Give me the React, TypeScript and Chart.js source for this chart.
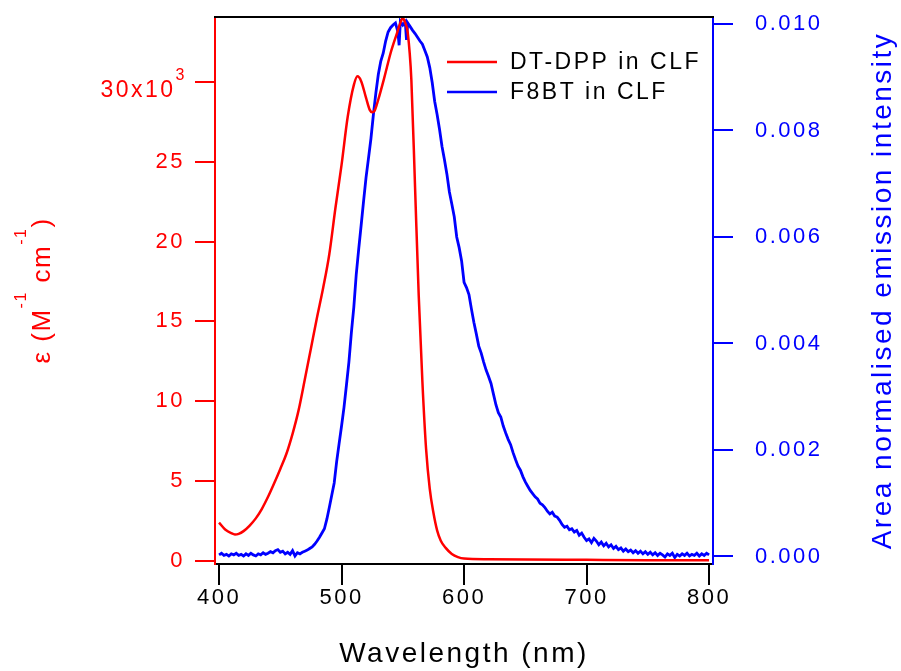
import React, { useEffect, useRef } from 'react';
import { Chart, registerables } from 'chart.js';

Chart.register(...registerables);

const FONT = "'Liberation Sans', Arial, Helvetica, sans-serif";
const SPACING = '2.5px';

// tick values
const wavelengthTicks = [400, 500, 600, 700, 800];
const epsilonTicks = [0, 5, 10, 15, 20, 25, 30];
const emissionTicks = [0, 0.002, 0.004, 0.006, 0.008, 0.01];

// DT-DPP absorption (epsilon, in units of 10^3 M^-1 cm^-1)
const absorptionWavelengths = [
  400, 405, 410, 413, 416, 420, 425, 430, 435, 440, 445, 450, 455, 460, 465,
  470, 475, 480, 485, 490, 495, 500, 505, 510, 513, 516, 520, 523, 525, 527,
  530, 535, 540, 545, 548, 550, 552, 554, 557, 560, 563, 566, 569, 572, 575,
  578, 581, 585, 590, 595, 600, 620, 650, 700, 750, 800,
];
const absorptionValues = [
  2.38, 1.95, 1.72, 1.64, 1.68, 1.85, 2.2, 2.65, 3.25, 4.0, 4.85, 5.75, 6.7, 7.95, 9.45,
  11.35, 13.3, 15.25, 17.1, 19.2, 22.1, 24.8, 27.8, 29.8, 30.35, 30.05, 29.0, 28.25, 28.1, 28.2,
  28.9, 30.3, 31.8, 33.0, 33.7, 34.0, 33.7, 33.1, 30.1, 23.4, 16.6, 11.2, 7.0, 4.5, 3.0,
  1.9, 1.25, 0.8, 0.42, 0.22, 0.13, 0.09, 0.07, 0.05, 0.03, 0.02,
];

// F8BT area-normalised emission
const emissionWavelengths = [
  400, 402, 404, 406, 408, 410, 412, 414, 416, 418, 420, 422, 424, 426, 428,
  430, 432, 434, 436, 438, 440, 442, 444, 446, 448, 450, 452, 454, 456, 458,
  460, 462, 464, 466, 468, 470, 472, 474, 476, 478, 480, 482, 484, 486, 488,
  490, 492, 494, 496, 498, 500, 502, 504, 506, 508, 510, 512, 514, 516, 518,
  520, 522, 524, 526, 528, 530, 532, 534, 536, 538, 540, 542, 544, 546, 547,
  548, 550, 552, 553, 554, 556, 558, 560, 562, 564, 566, 568, 570, 572, 574,
  576, 578, 580, 582, 584, 586, 588, 590, 592, 594, 596, 598, 600, 602, 604,
  606, 608, 610, 612, 614, 616, 618, 620, 622, 624, 626, 628, 630, 632, 634,
  636, 638, 640, 642, 644, 646, 648, 650, 652, 654, 656, 658, 660, 662, 664,
  666, 668, 670, 672, 674, 676, 678, 680, 682, 684, 686, 688, 690, 692, 694,
  696, 698, 700, 702, 704, 706, 708, 710, 712, 714, 716, 718, 720, 722, 724,
  726, 728, 730, 732, 734, 736, 738, 740, 742, 744, 746, 748, 750, 752, 754,
  756, 758, 760, 762, 764, 766, 768, 770, 772, 774, 776, 778, 780, 782, 784,
  786, 788, 790, 792, 794, 796, 798, 800,
];
const emissionValues = [
  0.00003, 0.00006, 0.00002, 0.00004, 0.00001, 0.00005, 0.00003, 0.00006, 0.00002, 0.00004, 0.00001, 0.00005, 0.00002, 0.00006, 0.00003,
  0.00001, 0.00005, 0.00003, 0.00007, 0.00004, 0.00006, 0.00009, 0.00007, 0.00011, 0.00013, 0.00008, 0.0001, 0.00005, 0.00008, 0.00004,
  0.00011, 0.00001, 0.00007, 0.00005, 0.00008, 0.0001, 0.00012, 0.00015, 0.00018, 0.00023, 0.00029, 0.00036, 0.00044, 0.00052, 0.0007,
  0.00092, 0.00115, 0.00138, 0.00178, 0.00212, 0.00245, 0.0028, 0.00322, 0.00365, 0.0042, 0.00468, 0.0053, 0.00577, 0.00622, 0.00668,
  0.00712, 0.00748, 0.00785, 0.0083, 0.0087, 0.00905, 0.0093, 0.00945, 0.00968, 0.00985, 0.00993, 0.00998, 0.01002, 0.00985, 0.0096,
  0.01005, 0.00998, 0.01004, 0.0097, 0.01002, 0.00995, 0.00988, 0.00982, 0.00975, 0.00968, 0.00962, 0.0095, 0.00938, 0.00918, 0.0089,
  0.00855, 0.0083, 0.00802, 0.0077, 0.00745, 0.00718, 0.00685, 0.00662, 0.00638, 0.006, 0.0058, 0.00555, 0.00515, 0.00505, 0.00492,
  0.00465, 0.0044, 0.00418, 0.00395, 0.00382, 0.00365, 0.0035, 0.00338, 0.00325, 0.00305, 0.00285, 0.0027, 0.00262, 0.00245, 0.00232,
  0.0022, 0.0021, 0.00195, 0.00182, 0.0017, 0.00162, 0.0015, 0.0014, 0.00132, 0.00124, 0.00118, 0.00112, 0.00108, 0.001, 0.00097,
  0.00092, 0.00085, 0.0008, 0.00083, 0.00076, 0.00074, 0.00068, 0.0006, 0.00055, 0.00057, 0.0005, 0.00052, 0.00046, 0.00049, 0.0004,
  0.00044, 0.00036, 0.0003, 0.00033, 0.00026, 0.00034, 0.00029, 0.00022, 0.00027, 0.0002, 0.00025, 0.00018, 0.00022, 0.00015, 0.00019,
  0.00013, 0.00016, 0.0001, 0.00014, 0.00009, 0.00012, 0.00007, 0.00011, 0.00006, 0.0001, 0.00005, 0.00009, 0.00004, 0.00008, 0.00003,
  0.00007, 0.00002, 0.00006, 0.00003, -0.00001, 0.00005, 0.00002, 0.00006, -0.00002, 0.00004, 0.00001, 0.00005, 0.00002, 0.00006, 0.00001,
  0.00004, 0.00002, 0.00006, 0.00001, 0.00005, 0.00002, 0.00006, 0.00003,
];

const seriesLabels = ['DT-DPP in CLF', 'F8BT in CLF'];
const seriesColors = ['#ff0000', '#0000ff'];
const xTitle = 'Wavelength (nm)';
const rightTitle = 'Area normalised emission intensity';

const overlayPlugin = {
  id: 'overlay',
  beforeDraw(chart: any) {
    (chart.ctx as any).letterSpacing = SPACING;
  },
  afterDraw(chart: any) {
    const ctx = chart.ctx as any;
    const ca = chart.chartArea;
    const yScale = chart.scales.y;
    ctx.save();
    ctx.letterSpacing = SPACING;

    // top frame line
    ctx.strokeStyle = '#000';
    ctx.lineWidth = 2;
    ctx.beginPath();
    ctx.moveTo(ca.left - 1, ca.top);
    ctx.lineTo(ca.right + 1, ca.top);
    ctx.stroke();

    // 30x10^3 label
    const y30 = yScale.getPixelForValue(30);
    ctx.fillStyle = seriesColors[0];
    ctx.textBaseline = 'alphabetic';
    ctx.textAlign = 'left';
    ctx.font = `23px ${FONT}`;
    const mainW = ctx.measureText('30x10').width;
    ctx.font = `16px ${FONT}`;
    const supW = ctx.measureText('3').width;
    const right = 187;
    const startX = right - supW - mainW;
    ctx.font = `23px ${FONT}`;
    ctx.fillText('30x10', startX, y30 + 15);
    ctx.font = `16px ${FONT}`;
    ctx.fillText('3', startX + mainW, y30 - 2);

    // left axis title with superscripts
    ctx.letterSpacing = '1.5px';
    const segs = [
      { t: 'ε (M', s: 26, sup: false },
      { t: '-1', s: 16, sup: true },
      { t: ' cm', s: 26, sup: false },
      { t: '-1', s: 16, sup: true },
      { t: ')', s: 26, sup: false },
    ];
    let total = 0;
    for (const sg of segs) {
      ctx.font = `${sg.s}px ${FONT}`;
      total += ctx.measureText(sg.t).width;
    }
    ctx.save();
    ctx.translate(50, (ca.top + ca.bottom) / 2);
    ctx.rotate(-Math.PI / 2);
    ctx.fillStyle = seriesColors[0];
    let cx = -total / 2;
    for (const sg of segs) {
      ctx.font = `${sg.s}px ${FONT}`;
      ctx.fillText(sg.t, cx, sg.sup ? -24 : 0);
      cx += ctx.measureText(sg.t).width;
    }
    ctx.restore();
    ctx.letterSpacing = SPACING;

    // right axis title
    ctx.save();
    ctx.translate(891, (ca.top + ca.bottom) / 2);
    ctx.rotate(-Math.PI / 2);
    ctx.fillStyle = seriesColors[1];
    ctx.font = `28px ${FONT}`;
    ctx.textAlign = 'center';
    ctx.fillText(rightTitle, 0, 0);
    ctx.restore();

    // x axis title
    ctx.fillStyle = '#000';
    ctx.font = `28px ${FONT}`;
    ctx.textAlign = 'center';
    ctx.fillText(xTitle, (ca.left + ca.right) / 2, 662);

    // legend
    const legendY = [62, 92];
    ctx.textAlign = 'left';
    ctx.font = `23px ${FONT}`;
    for (let i = 0; i < seriesLabels.length; i++) {
      ctx.strokeStyle = seriesColors[i];
      ctx.lineWidth = 2.5;
      ctx.beginPath();
      ctx.moveTo(447, legendY[i]);
      ctx.lineTo(497, legendY[i]);
      ctx.stroke();
      ctx.fillStyle = '#000';
      ctx.fillText(seriesLabels[i], 510, legendY[i] + 7);
    }
    ctx.restore();
  },
};

export default function App() {
  const ref = useRef<HTMLCanvasElement | null>(null);

  useEffect(() => {
    if (!ref.current) return;
    const chart = new Chart(ref.current, {
      type: 'line',
      data: {
        datasets: [
          {
            label: seriesLabels[0],
            data: absorptionWavelengths.map((x, i) => ({ x, y: absorptionValues[i] })),
            borderColor: seriesColors[0],
            borderWidth: 2.5,
            pointRadius: 0,
            cubicInterpolationMode: 'monotone',
            yAxisID: 'y',
          },
          {
            label: seriesLabels[1],
            data: emissionWavelengths.map((x, i) => ({ x, y: emissionValues[i] })),
            borderColor: seriesColors[1],
            borderWidth: 2.8,
            pointRadius: 0,
            tension: 0,
            yAxisID: 'y2',
          },
        ],
      },
      options: {
        animation: false,
        responsive: false,
        layout: { padding: { top: 17, left: 0, right: 0, bottom: 0 } },
        plugins: { legend: { display: false }, tooltip: { enabled: false } },
        scales: {
          x: {
            type: 'linear',
            position: 'bottom',
            min: 396.7,
            max: 803.2,
            border: { color: '#000', width: 2 },
            grid: { drawOnChartArea: false, color: '#000', lineWidth: 2, tickLength: 21 },
            afterBuildTicks: (s: any) => {
              s.ticks = wavelengthTicks.map((v) => ({ value: v }));
            },
            ticks: {
              color: '#000',
              padding: 0,
              maxRotation: 0,
              autoSkip: false,
              font: { family: FONT, size: 22 },
              callback: (v: any) => String(Math.round(v)),
            },
            afterFit: (s: any) => {
              s.height = 107;
              s.paddingLeft = 0;
              s.paddingRight = 0;
            },
          },
          y: {
            type: 'linear',
            position: 'left',
            min: -0.21,
            max: 34.07,
            border: { color: seriesColors[0], width: 2 },
            grid: { drawOnChartArea: false, color: seriesColors[0], lineWidth: 2, tickLength: 20 },
            afterBuildTicks: (s: any) => {
              s.ticks = epsilonTicks.map((v) => ({ value: v }));
            },
            ticks: {
              color: seriesColors[0],
              padding: 10,
              autoSkip: false,
              font: { family: FONT, size: 22 },
              callback: (v: any) => (Math.abs(v - 30) < 1e-6 ? '' : String(Math.round(v))),
            },
            afterFit: (s: any) => {
              s.width = 215;
              s.paddingTop = 0;
              s.paddingBottom = 0;
            },
          },
          y2: {
            type: 'linear',
            position: 'right',
            min: -0.000141,
            max: 0.010131,
            border: { color: seriesColors[1], width: 2 },
            grid: { drawOnChartArea: false, color: seriesColors[1], lineWidth: 2, tickLength: 20 },
            afterBuildTicks: (s: any) => {
              s.ticks = emissionTicks.map((v) => ({ value: v }));
            },
            ticks: {
              color: seriesColors[1],
              padding: 22,
              autoSkip: false,
              font: { family: FONT, size: 22 },
              callback: (v: any) => Number(v).toFixed(3),
            },
            afterFit: (s: any) => {
              s.width = 188;
              s.paddingTop = 0;
              s.paddingBottom = 0;
            },
          },
        },
      },
      plugins: [overlayPlugin],
    } as any);
    return () => chart.destroy();
  }, []);

  return (
    <div style={{ position: 'absolute', left: 0, top: 0, width: 901, height: 671, background: '#fff' }}>
      <canvas ref={ref} width={901} height={671} style={{ display: 'block' }} />
    </div>
  );
}
